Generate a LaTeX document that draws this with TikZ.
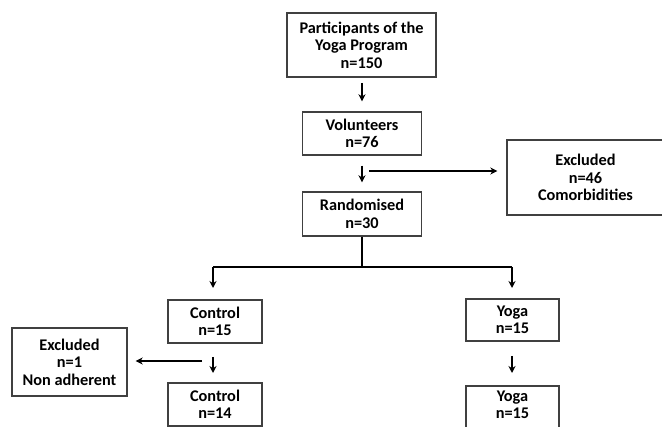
\documentclass[tikz,border=0pt]{standalone}
\usepackage{fontspec}
\setmainfont{Carlito}
\usetikzlibrary{arrows.meta}
\begin{document}
\begin{tikzpicture}[x=1pt,y=-1pt,
  txt/.style={font=\fontsize{16.3}{17.5}\selectfont\bfseries,align=center},
  box/.style={txt,draw=black!75,line width=1.4pt,inner sep=0pt},
  arr/.style={line width=2pt,-{Stealth[length=7pt,width=7pt]}},
  ln/.style={line width=2pt}]
\useasboundingbox (0,0) rectangle (662,427);
\node[box,minimum width=149pt,minimum height=64pt] (p) at (361.5,45) {Participants of the\\Yoga Program\\n=150};
\node[box,minimum width=119pt,minimum height=43pt] (v) at (362,133.5) {Volunteers\\n=76};
\node[box,minimum width=119pt,minimum height=44pt] (r) at (362,214) {Randomised\\n=30};
\node[box,minimum width=157pt,minimum height=75pt] (er) at (585.5,177.5) {Excluded\\n=46\\Comorbidities};
\node[box,minimum width=94pt,minimum height=43pt] (c1) at (215,321.5) {Control\\n=15};
\node[box,minimum width=93pt,minimum height=42pt] (y1) at (512.5,320) {Yoga\\n=15};
\node[box,minimum width=115pt,minimum height=68pt] (el) at (69.5,362) {Excluded\\n=1\\Non adherent};
\node[box,minimum width=94pt,minimum height=43pt] (c2) at (215,404.5) {Control\\n=14};
\node[box,minimum width=93pt,minimum height=48pt] (y2) at (512.5,410) {};
\node[txt] (y2t) at (512.5,405) {Yoga\\n=15};
\coordinate (a1) at (362,77);
\draw[arr,shorten <=6pt,shorten >=10pt] (a1) -- (v.north);
\draw[arr,shorten <=10pt,shorten >=9pt] (v.south) -- (r.north);
\coordinate (h1) at (369,171);
\draw[arr,shorten >=9pt] (h1) -- (er.west |- h1);
\coordinate (jn) at (362,267);
\coordinate (cl) at (213,267);
\coordinate (cr) at (512,267);
\coordinate (c1t) at (213,300);
\coordinate (y1t) at (512,299);
\draw[ln] (r.south) -- (jn);
\draw[ln] (cl) -- (cr);
\draw[arr,shorten >=12pt] (cl) -- (c1t);
\draw[arr,shorten >=11pt] (cr) -- (y1t);
\coordinate (c1b) at (213,343);
\coordinate (c2t) at (213,383);
\draw[arr,shorten <=14pt,shorten >=10pt] (c1b) -- (c2t);
\coordinate (y1b) at (512,341);
\coordinate (y2t) at (512,386);
\draw[arr,shorten <=15pt,shorten >=13pt] (y1b) -- (y2t);
\coordinate (h2) at (202,361);
\draw[arr,shorten >=8pt] (h2) -- (el.east |- h2);
\end{tikzpicture}
\end{document}
